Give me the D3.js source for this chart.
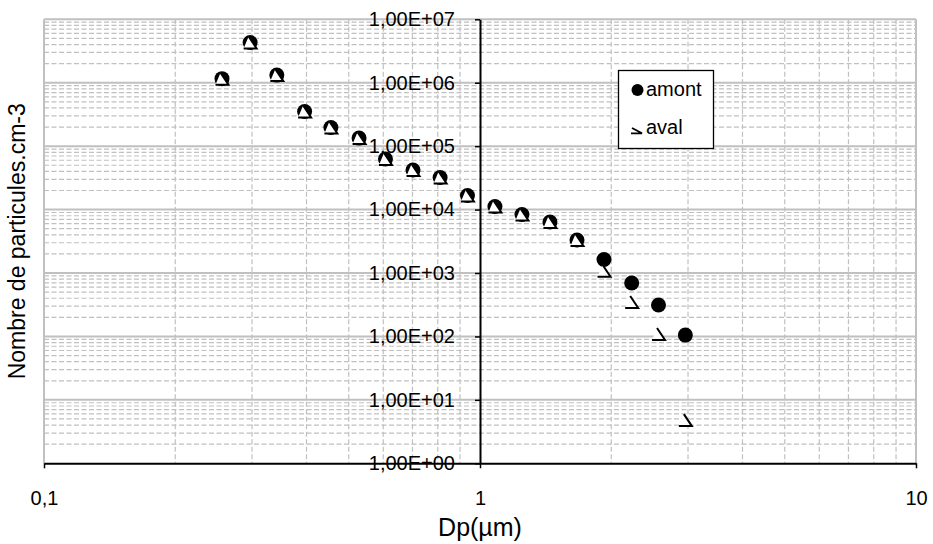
<!DOCTYPE html>
<html><head><meta charset="utf-8">
<script src="https://cdn.jsdelivr.net/npm/d3@7"></script>
<style>
body{margin:0;background:#fff}
svg{display:block}
text{font-family:"Liberation Sans",Arial,sans-serif}
</style>
</head><body>
<svg id="c" width="933" height="544"></svg>
<script>
// ---- data ----
const dp = [0.256, 0.297, 0.342, 0.396, 0.455, 0.528, 0.607, 0.702, 0.810, 0.936, 1.082, 1.248, 1.447, 1.669, 1.925, 2.228, 2.567, 2.958];
const amont = [1.16e6, 4.31e6, 1.32e6, 3.52e5, 1.97e5, 1.34e5, 6.27e4, 4.21e4, 3.2e4, 1.67e4, 1.12e4, 8.36e3, 6.37e3, 3.31e3, 1.63e3, 696, 313, 105];
const aval = [1.16e6, 4.31e6, 1.32e6, 3.52e5, 1.97e5, 1.34e5, 6.27e4, 4.21e4, 3.2e4, 1.67e4, 1.12e4, 8.36e3, 6.37e3, 3.31e3, 1087, 349, 109, 4.8];
const seriesNames = ["amont", "aval"];
const xTickValues = [0.1, 1, 10];
const xTickLabels = ["0,1", "1", "10"];
const yTickValues = [1, 10, 100, 1e3, 1e4, 1e5, 1e6, 1e7];
const yTickLabels = ["1,00E+00", "1,00E+01", "1,00E+02", "1,00E+03", "1,00E+04", "1,00E+05", "1,00E+06", "1,00E+07"];
const xTitle = "Dp(µm)";
const yTitle = "Nombre de particules.cm-3";

// ---- layout ----
const L = 44, R = 916, T = 19.3, B = 463.3;
const x = d3.scaleLog().domain([0.1, 10]).range([L, R]);
const y = d3.scaleLog().domain([1, 1e7]).range([B, T]);
const svg = d3.select("#c");
const isMajor = v => Math.abs(Math.log10(v) - Math.round(Math.log10(v))) < 1e-9;
const GRID = "#c0c0c0";

// minor grid
const g = svg.append("g");
g.selectAll(".mh").data(y.ticks().filter(v => !isMajor(v))).join("line")
  .attr("x1", L).attr("x2", R).attr("y1", d => y(d)).attr("y2", d => y(d))
  .attr("stroke", GRID).attr("stroke-width", 1.2).attr("stroke-dasharray", "5,2.5");
g.selectAll(".mv").data(x.ticks().filter(v => !isMajor(v))).join("line")
  .attr("y1", T).attr("y2", B).attr("x1", d => x(d)).attr("x2", d => x(d))
  .attr("stroke", GRID).attr("stroke-width", 1.2).attr("stroke-dasharray", "5,2.5");
// major grid
g.selectAll(".Mh").data(yTickValues.filter(v => v > 1)).join("line")
  .attr("x1", L).attr("x2", R).attr("y1", d => y(d)).attr("y2", d => y(d))
  .attr("stroke", GRID).attr("stroke-width", 2);
g.selectAll(".Mv").data([0.1, 10]).join("line")
  .attr("y1", T).attr("y2", B).attr("x1", d => x(d)).attr("x2", d => x(d))
  .attr("stroke", GRID).attr("stroke-width", 2);

// axes
const yAxis = svg.append("g").attr("transform", `translate(${x(1)},0)`)
  .call(d3.axisLeft(y).tickValues(yTickValues).tickFormat((d, i) => yTickLabels[i])
    .tickSize(5).tickSizeOuter(0).tickPadding(20));
const xAxis = svg.append("g").attr("transform", `translate(0,${B})`)
  .call(d3.axisBottom(x).tickValues(xTickValues).tickFormat((d, i) => xTickLabels[i])
    .tickSize(5).tickSizeOuter(0).tickPadding(23));
[yAxis, xAxis].forEach(a => {
  a.attr("font-size", 20).attr("font-family", "'Liberation Sans', Arial, sans-serif");
  a.select(".domain").attr("stroke", "#000").attr("stroke-width", 2);
  a.selectAll(".tick line").attr("stroke", "#000").attr("stroke-width", 1.5);
  a.selectAll(".tick text").attr("fill", "#000");
});

// titles
svg.append("text").attr("x", x(1)).attr("y", 536).attr("text-anchor", "middle")
  .attr("font-size", 25).text(xTitle);
svg.append("text").attr("transform", `translate(25,${(T + B) / 2}) rotate(-90)`)
  .attr("text-anchor", "middle").attr("font-size", 23).text(yTitle);

// series
const pts = dp.map((d, i) => ({ d, a: amont[i], v: aval[i] }));
svg.append("g").selectAll("circle").data(pts).join("circle")
  .attr("cx", p => x(p.d)).attr("cy", p => y(p.a)).attr("r", 7.5).attr("fill", "#000");

const avalFill = (cx, cy) => `M${cx - 1.5},${cy - 6}L${cx + 6.5},${cy + 6}L${cx - 6.5},${cy + 6}Z`;
const avalStroke = (cx, cy) => `M${cx - 1.5},${cy - 6}L${cx + 6.5},${cy + 6}L${cx - 6.5},${cy + 6}`;
const ga = svg.append("g");
ga.selectAll(".af").data(pts).join("path")
  .attr("d", p => avalFill(x(p.d), y(p.v))).attr("fill", "#fff");
ga.selectAll(".as").data(pts).join("path")
  .attr("d", p => avalStroke(x(p.d), y(p.v))).attr("fill", "none")
  .attr("stroke", "#000").attr("stroke-width", 2).attr("stroke-linejoin", "miter");

// legend
const lg = svg.append("g");
lg.append("rect").attr("x", 618.5).attr("y", 70.5).attr("width", 95).attr("height", 78)
  .attr("fill", "#fff").attr("stroke", "#000").attr("stroke-width", 1.3);
lg.append("circle").attr("cx", 637.5).attr("cy", 90).attr("r", 6).attr("fill", "#000");
lg.append("path").attr("d", "M632,128L642,133.3L631,133.3").attr("fill", "none")
  .attr("stroke", "#000").attr("stroke-width", 1.8);
lg.selectAll("text").data(seriesNames).join("text")
  .attr("x", 646).attr("y", (d, i) => i === 0 ? 96 : 134).attr("font-size", 20).text(d => d);
</script>
</body></html>
